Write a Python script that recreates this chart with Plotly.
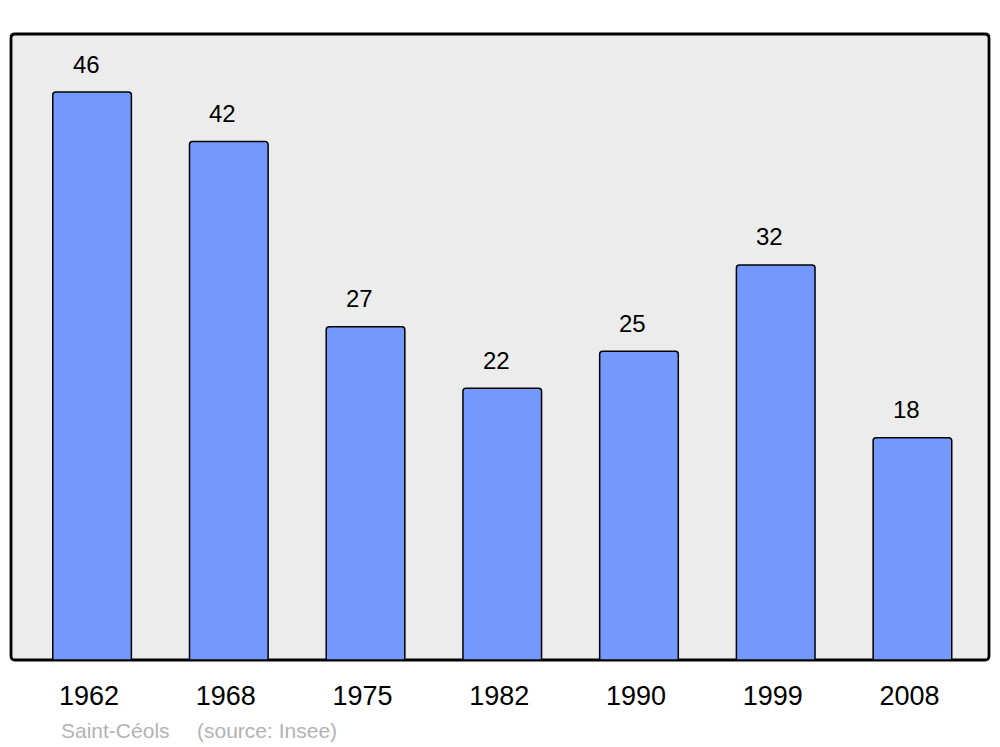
import plotly.graph_objects as go

years = ["1962", "1968", "1975", "1982", "1990", "1999", "2008"]
population = [46, 42, 27, 22, 25, 32, 18]
commune = "Saint-Céols"
source = "(source: Insee)"

W, H = 1000, 747
L, R, T, B = 11, 11, 34, 87
pw, ph = W - L - R, H - T - B

xpos = list(range(len(years)))

fig = go.Figure()
fig.add_trace(go.Bar(
    x=xpos, y=population, width=0.575,
    marker=dict(color="#7399ff", line=dict(color="#000000", width=1.5), cornerradius=3),
    hoverinfo="skip",
))

for xi, v in zip(xpos, population):
    fig.add_annotation(x=xi, y=v, text=str(v), showarrow=False, xref="x", yref="y",
                       xanchor="center", yanchor="middle", xshift=-6, yshift=28,
                       font=dict(family="Liberation Sans, Arial", size=24, color="#000000"))

# rounded frame
r = 4
rx, ry = r / pw, r / ph
path = (f"M {rx},0 L {1-rx},0 Q 1,0 1,{ry} L 1,{1-ry} Q 1,1 {1-rx},1 "
        f"L {rx},1 Q 0,1 0,{1-ry} L 0,{ry} Q 0,0 {rx},0 Z")
fig.add_shape(type="path", path=path, xref="paper", yref="paper",
              fillcolor="#ececec", line=dict(color="#000000", width=2.8), layer="below")

for txt, px, py in [(commune, 59, 730), (source, 195, 730)]:
    fig.add_annotation(text=txt, x=(px - L) / pw, y=1 - (py - T) / ph,
                       xref="paper", yref="paper", showarrow=False,
                       xanchor="left", yanchor="middle",
                       font=dict(family="Liberation Sans, Arial", size=21, color="#b3b3b3"))

fig.update_layout(
    width=W, height=H,
    margin=dict(l=L, r=R, t=T, b=B),
    paper_bgcolor="#ffffff", plot_bgcolor="rgba(0,0,0,0)",
    showlegend=False,
    xaxis=dict(range=[-0.593, 6.56], tickmode="array", tickvals=xpos, ticktext=years,
               showgrid=False, zeroline=False, showline=False, ticks="",
               tickfont=dict(family="Liberation Sans, Arial", size=27, color="#000000"),
               ticklabelstandoff=17, ticklabelshift=-3, fixedrange=True),
    yaxis=dict(range=[0, 50.7], showgrid=False, zeroline=False, showline=False,
               showticklabels=False, ticks="", fixedrange=True),
)

fig.write_html("out.html", config={"displayModeBar": False},
               post_script="document.body.style.margin='0';document.body.style.overflow='hidden';")
